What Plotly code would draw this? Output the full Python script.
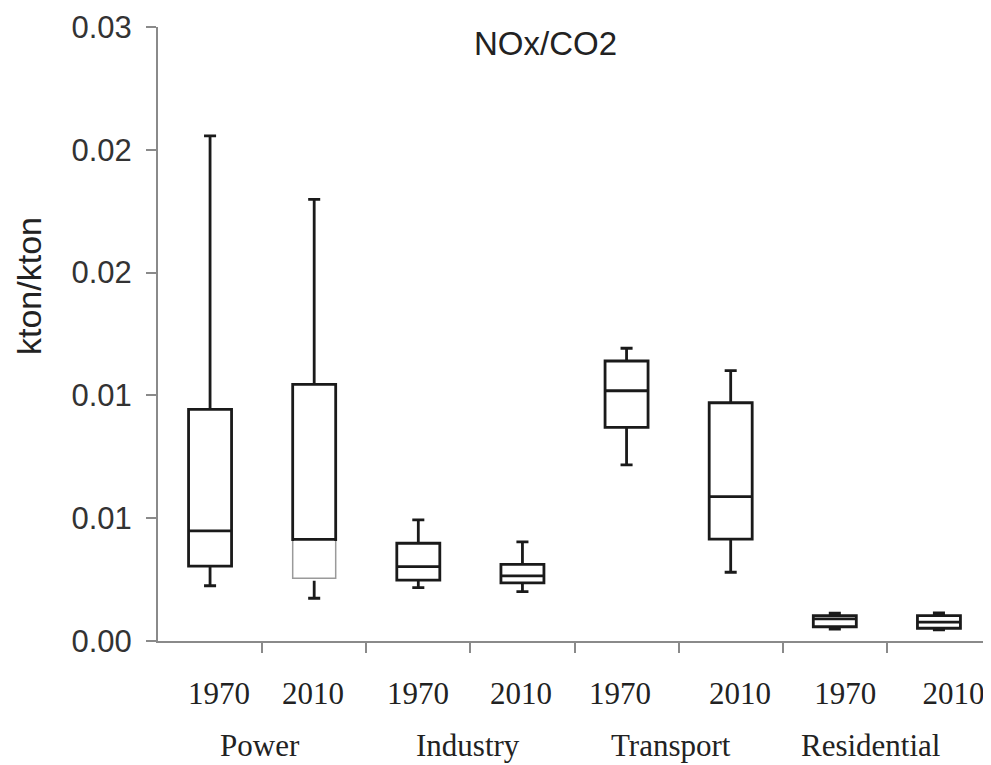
import plotly.graph_objects as go

# ---- data ----
year_labels = ["1970", "2010", "1970", "2010", "1970", "2010", "1970", "2010"]
sectors = ["Power", "Industry", "Transport", "Residential"]
upper_whisker = [0.02057, 0.01798, 0.00493, 0.00404, 0.01192, 0.01101, 0.00113, 0.00114]
q3_values = [0.00943, 0.01045, 0.00398, 0.00312, 0.01140, 0.00970, 0.00103, 0.00103]
medians = [0.00448, 0.00414, 0.00303, 0.00265, 0.01019, 0.00588, 0.00090, 0.00077]
q1_values = [0.00305, 0.00255, 0.00248, 0.00237, 0.00870, 0.00415, 0.00058, 0.00052]
lower_whisker = [0.00225, 0.00174, 0.00217, 0.00201, 0.00717, 0.00280, 0.00048, 0.00045]
faded_lower_half = [False, True, False, False, False, False, False, False]
y_tick_values = [0.0, 0.005, 0.010, 0.015, 0.020, 0.025]
y_tick_text = ["0.00", "0.01", "0.01", "0.02", "0.02", "0.03"]

# ---- layout constants ----
positions = list(range(len(year_labels)))
box_width = 0.413
label_positions = [0.086, 0.989, 1.998, 2.987, 3.938, 5.09, 6.1, 7.14]
sector_positions = [0.48, 2.48, 4.43, 6.34]
BOX_COLOR = "#1a1a1a"
AXIS_COLOR = "#8a8a8a"
px_per_unit = 614 / 0.025

fig = go.Figure()
fig.add_trace(go.Box(
    x=positions,
    q1=q1_values, median=medians, q3=q3_values,
    lowerfence=lower_whisker, upperfence=upper_whisker,
    width=box_width, whiskerwidth=0.28,
    boxpoints=False,
    line=dict(color=BOX_COLOR, width=2.8),
    fillcolor="rgba(255,255,255,0)",
    showlegend=False, hoverinfo="skip",
))

# faded (grey, thin) lower half of a box
eps = 1.6 / px_per_unit
for i, faded in enumerate(faded_lower_half):
    if not faded:
        continue
    xl = positions[i] - box_width / 2
    xr = positions[i] + box_width / 2
    xs = [xl, xl, xr, xr]
    ys = [medians[i] - eps, q1_values[i], q1_values[i], medians[i] - eps]
    fig.add_trace(go.Scatter(x=xs, y=ys, mode="lines",
                             line=dict(color="white", width=4.8),
                             showlegend=False, hoverinfo="skip"))
    fig.add_trace(go.Scatter(x=xs, y=ys, mode="lines",
                             line=dict(color="#9a9a9a", width=1.5),
                             showlegend=False, hoverinfo="skip"))

fig.update_layout(
    width=983, height=757,
    margin=dict(l=150, r=0, t=19, b=124),
    paper_bgcolor="white", plot_bgcolor="white",
    showlegend=False,
    xaxis=dict(
        range=[-0.5, 7.5], tickmode="array",
        tickvals=label_positions, ticktext=year_labels,
        ticks="", ticklabelstandoff=24,
        showline=True, linecolor=AXIS_COLOR, linewidth=2,
        showgrid=False, zeroline=False,
        tickfont=dict(family="Liberation Serif", size=31, color="#222"),
        minor=dict(tickmode="array", tickvals=[p + 0.5 for p in positions[:-1]],
                   ticks="outside", ticklen=10, tickwidth=2, tickcolor=AXIS_COLOR,
                   showgrid=False),
    ),
    yaxis=dict(
        range=[0, 0.025], tickmode="array",
        tickvals=y_tick_values, ticktext=y_tick_text,
        ticks="outside", ticklen=10, tickwidth=2, tickcolor=AXIS_COLOR,
        ticklabelstandoff=8,
        showline=True, linecolor=AXIS_COLOR, linewidth=2,
        showgrid=False, zeroline=False,
        tickfont=dict(family="Liberation Sans", size=31, color="#333"),
    ),
)

for name, xp in zip(sectors, sector_positions):
    fig.add_annotation(x=xp, xref="x", y=-104 / 614, yref="paper",
                       text=name, showarrow=False, xanchor="center", yanchor="middle",
                       font=dict(family="Liberation Serif", size=31, color="#222"))

fig.add_annotation(x=(545 - 158) / 833, xref="paper", y=(641 - 43) / 614, yref="paper",
                   text="NOx/CO2", showarrow=False, xanchor="center", yanchor="middle",
                   font=dict(family="Liberation Sans", size=33, color="#222"))
fig.add_annotation(x=(29 - 158) / 833, xref="paper", y=(641 - 286) / 614, yref="paper",
                   text="kton/kton", showarrow=False, textangle=-90,
                   xanchor="center", yanchor="middle",
                   font=dict(family="Liberation Sans", size=34, color="#222"))

fig.write_html("out.html")
